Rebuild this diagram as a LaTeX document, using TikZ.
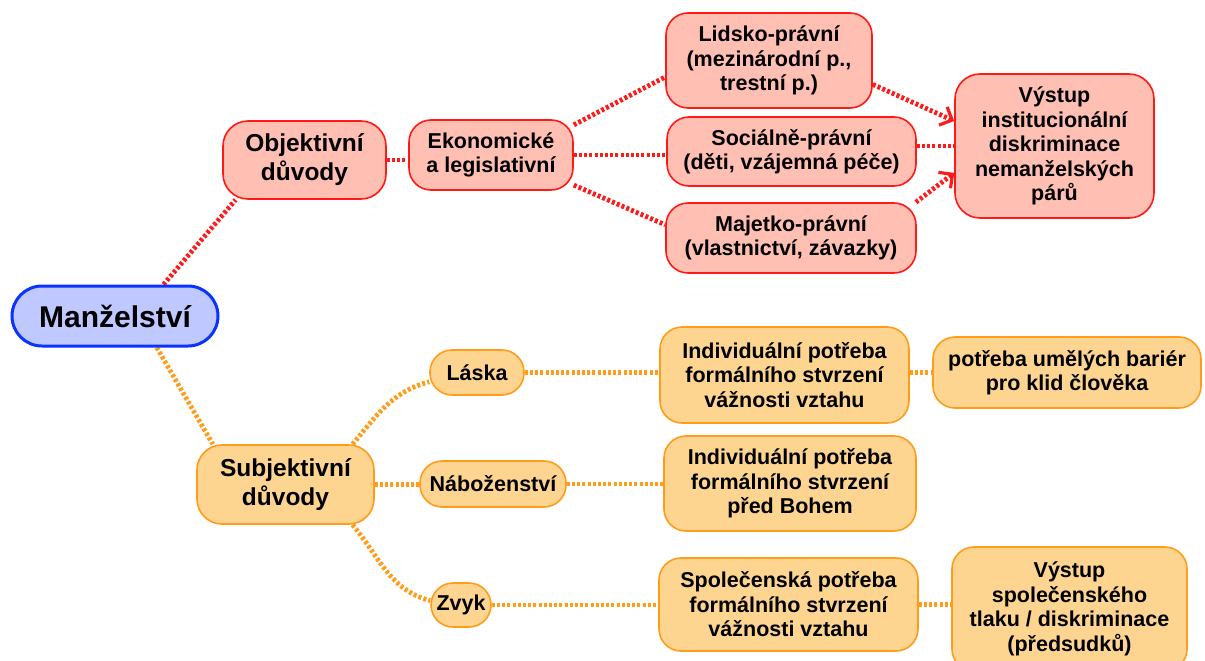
\documentclass[tikz,border=0pt]{standalone}
\usepackage{fontspec}
\setmainfont{Liberation Sans}
\usetikzlibrary{arrows.meta,backgrounds}
\definecolor{rline}{HTML}{FF1A1A}
\definecolor{rfill}{HTML}{FFBFB2}
\definecolor{oline}{HTML}{FF9C1A}
\definecolor{ofill}{HTML}{FDD591}
\definecolor{bline}{HTML}{0A33FF}
\definecolor{bfill}{HTML}{C0C9FF}
\tikzset{
  box/.style={draw, line width=1.6pt, rounded corners=22pt, align=center, inner sep=0pt,
    font=\bfseries\fontsize{21.5}{24.5}\selectfont},
  redbox/.style={box, draw=rline, fill=rfill},
  orbox/.style={box, draw=oline, fill=ofill},
  bigfont/.style={font=\bfseries\fontsize{24.5}{29}\selectfont},
  rcon/.style={draw=rline, line width=4.8pt, dash pattern=on 3pt off 2.2pt},
  ocon/.style={draw=oline, line width=4.8pt, dash pattern=on 3pt off 2.2pt},
  tipped/.style={-{Straight Barb[length=10pt,width=20pt,line width=3.2pt]}},
}
\begin{document}
\begin{tikzpicture}[x=1pt,y=-1pt]
\useasboundingbox (0,0) rectangle (1205,661);
% root
\node[box, draw=bline, fill=bfill, line width=3pt, rounded corners=30pt,
  minimum width=206pt, minimum height=60pt, font=\bfseries\fontsize{30}{34}\selectfont]
  (man) at (115,316) {Manželství};
% objective branch
\node[redbox, bigfont, rounded corners=25pt, minimum width=163pt, minimum height=78pt]
  (obj) at (304.5,160) {Objektivní\\důvody};
\node[redbox, minimum width=164pt, minimum height=70pt] (eko) at (491,155) {Ekonomické\\a legislativní};
\node[redbox, minimum width=206pt, minimum height=95pt] (lid) at (769,60.5) {Lidsko-právní\\(mezinárodní p.,\\trestní p.)};
\node[redbox, minimum width=249pt, minimum height=69pt] (soc) at (791.5,151.5) {Sociálně-právní\\(děti, vzájemná péče)};
\node[redbox, minimum width=250pt, minimum height=70pt] (maj) at (791,238) {Majetko-právní\\(vlastnictví, závazky)};
\node[redbox, rounded corners=25pt, minimum width=199pt, minimum height=144pt] (vys1) at (1054.5,146) {Výstup\\institucionální\\diskriminace\\nemanželských\\párů};
% subjective branch
\node[orbox, bigfont, rounded corners=25pt, minimum width=177pt, minimum height=79pt]
  (subj) at (285.5,484.5) {Subjektivní\\důvody};
\node[orbox, minimum width=94pt, minimum height=45pt] (laska) at (477,372.5) {Láska};
\node[orbox, minimum width=146pt, minimum height=46pt] (nab) at (493,484) {Náboženství};
\node[orbox, minimum width=60pt, minimum height=44pt] (zvyk) at (461,605) {Zvyk};
\node[orbox, minimum width=249pt, minimum height=96pt] (ind1) at (784.5,375) {Individuální potřeba\\formálního stvrzení\\vážnosti vztahu};
\node[orbox, minimum width=268pt, minimum height=71pt] (bar) at (1067,372.5) {potřeba umělých bariér\\pro klid člověka};
\node[orbox, minimum width=252pt, minimum height=95pt] (ind2) at (790,483.5) {Individuální potřeba\\formálního stvrzení\\před Bohem};
\node[orbox, minimum width=259pt, minimum height=93pt] (spol) at (788.5,604.5) {Společenská potřeba\\formálního stvrzení\\vážnosti vztahu};
\node[orbox, minimum width=235pt, minimum height=124pt] (vys2) at (1069.5,609) {Výstup\\společenského\\tlaku / diskriminace\\(předsudků)};
% connectors
\begin{scope}[on background layer]
\draw[rcon] (man.33) -- (obj.210);
\draw[rcon] (obj.east) -- (obj.east -| eko.west);
\draw[rcon] (eko.20) -- (lid.189);
\draw[rcon] (eko.east) -- (eko.east -| soc.west);
\draw[rcon] (eko.-20) -- (maj.174);
\draw[rcon, tipped] (lid.-13) -- (vys1.166);
\draw[rcon] (soc.east |- vys1.west) -- (vys1.west);
\draw[rcon, tipped] (maj.16) -- (vys1.195);
\draw[ocon] (man.-37) -- (subj.151);
\draw[ocon] (subj.31) to[out=50, in=195] (laska.191);
\draw[ocon] (subj.east) -- (subj.east -| nab.west);
\draw[ocon] (subj.-31) to[out=-50, in=165] (zvyk.172);
\draw[ocon] (laska.east) -- (laska.east -| ind1.west);
\draw[ocon] (ind1.east |- bar.west) -- (bar.west);
\draw[ocon] (nab.east) -- (nab.east -| ind2.west);
\draw[ocon] (zvyk.east) -- (zvyk.east -| spol.west);
\draw[ocon] (spol.east) -- (spol.east -| vys2.west);
\end{scope}
\end{tikzpicture}
\end{document}
